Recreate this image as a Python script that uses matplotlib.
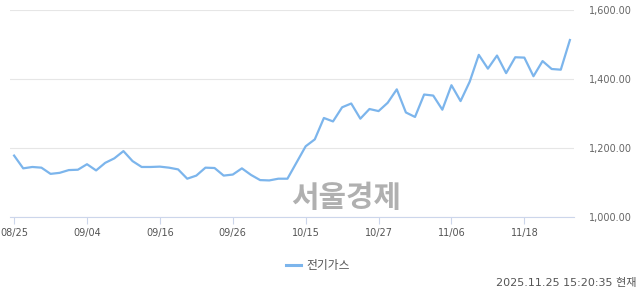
import matplotlib
matplotlib.use("Agg")
import matplotlib.pyplot as plt
from matplotlib.lines import Line2D

series_name = "전기가스"
values = [1178, 1141, 1145, 1143, 1125, 1128, 1136, 1137, 1153, 1135,
          1157, 1170, 1191, 1162, 1145, 1145, 1146, 1143, 1138, 1111,
          1120, 1143, 1142, 1120, 1123, 1141, 1122, 1107, 1106, 1111,
          1111, 1158, 1205, 1225, 1287, 1277, 1318, 1329, 1285, 1313,
          1307, 1331, 1370, 1303, 1290, 1355, 1352, 1311, 1382, 1336,
          1392, 1470, 1430, 1468, 1417, 1463, 1462, 1408, 1452, 1429,
          1427, 1513]
tick_idx = [0, 8, 16, 24, 32, 40, 48, 56]
tick_labels = ["08/25", "09/04", "09/16", "09/26", "10/15", "10/27", "11/06", "11/18"]
y_ticks = [1000, 1200, 1400, 1600]
y_tick_labels = ["1,000.00", "1,200.00", "1,400.00", "1,600.00"]
timestamp = "2025.11.25 15:20:35 현재"
watermark = "서울경제"

W, H = 640, 294
fig = plt.figure(figsize=(W / 100, H / 100), dpi=100)
ax = fig.add_axes([10 / W, (H - 217) / H, (574 - 10) / W, (217 - 10) / H])

line_color = "#7cb5ec"
ax.plot(range(len(values)), values, color=line_color, lw=1.6, solid_joinstyle="round", zorder=3)

ax.set_xlim(-0.45, len(values) - 1 + 0.45)
ax.set_ylim(1000, 1600)

ax.set_yticks(y_ticks)
ax.set_yticklabels(y_tick_labels)
ax.yaxis.tick_right()
ax.tick_params(axis="y", length=0, pad=11, labelsize=7, labelcolor="#666666")
ax.grid(axis="y", color="#e6e6e6", lw=0.8)

ax.set_xticks(tick_idx)
ax.set_xticklabels(tick_labels)
ax.tick_params(axis="x", length=5, width=0.8, color="#ccd6eb", pad=3, labelsize=7, labelcolor="#555555")

for s in ["top", "left", "right"]:
    ax.spines[s].set_visible(False)
ax.spines["bottom"].set_color("#ccd6eb")
ax.spines["bottom"].set_linewidth(0.8)
ax.set_axisbelow(True)

# watermark
fig.text(346 / W, 1 - 198 / H, watermark, ha="center", va="center", fontsize=21.5,
         fontweight="bold", color="#b0b0b0", family=["Noto Sans CJK KR", "DejaVu Sans"], zorder=1)

# legend
fig.add_artist(Line2D([286 / W, 301 / W], [1 - 265 / H, 1 - 265 / H], color=line_color, lw=2.2,
                      transform=fig.transFigure))
fig.text(306 / W, 1 - 265 / H, series_name, ha="left", va="center", fontsize=8.5,
         color="#555555", family=["Noto Sans CJK KR", "DejaVu Sans"])

# timestamp
fig.text(637 / W, 1 - 283 / H, timestamp, ha="right", va="center", fontsize=8,
         color="#555555", family=["DejaVu Sans", "Noto Sans CJK KR"])

fig.savefig("out.png", dpi=100)
